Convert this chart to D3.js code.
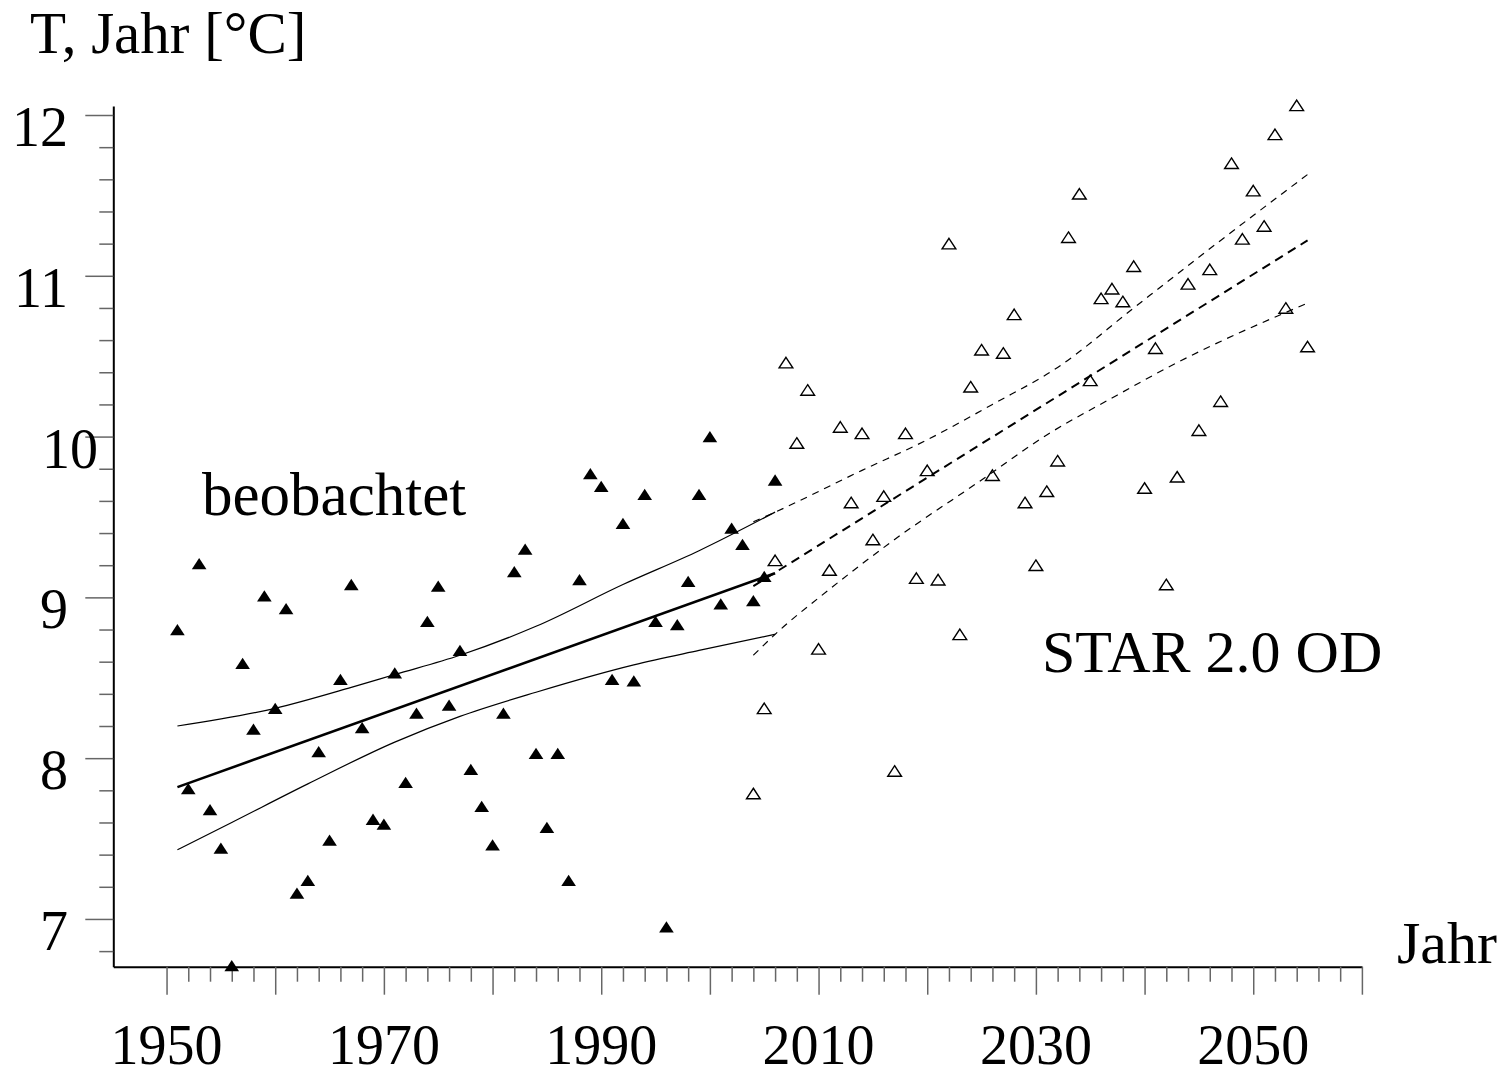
<!DOCTYPE html>
<html>
<head>
<meta charset="utf-8">
<script src="https://cdn.jsdelivr.net/npm/d3@7"></script>
<style>
  body { margin: 0; background: #fff; }
  text { font-family: "Liberation Serif", "DejaVu Serif", serif; fill: #000; }
</style>
</head>
<body>
<div id="chart"></div>
<script>
// Observed annual mean temperature (filled triangles)
const obsYears = d3.range(1951, 2007);
const obsTemp = [8.80, 7.81, 9.21, 7.68, 7.44, 6.71, 8.59, 8.18, 9.01, 8.31,
  8.93, 7.16, 7.24, 8.04, 7.49, 8.49, 9.08, 8.19, 7.62, 7.59,
  8.53, 7.85, 8.28, 8.85, 9.07, 8.33, 8.67, 7.93, 7.70, 7.46,
  8.28, 9.16, 9.30, 8.03, 7.57, 8.03, 7.24, 9.11, 9.77, 9.69,
  8.49, 9.46, 8.48, 9.64, 8.85, 6.95, 8.83, 9.10, 9.64, 10.00,
  8.96, 9.43, 9.33, 8.98, 9.13, 9.73];

// STAR 2.0 OD simulation (open triangles)
const simYears = d3.range(2004, 2056);
const simTemp = [7.78, 8.31, 9.23, 10.46, 9.96, 10.29, 8.68, 9.17, 10.06, 9.59,
  10.02, 9.36, 9.63, 7.92, 10.02, 9.12, 9.79, 9.11, 11.20, 8.77,
  10.31, 10.54, 9.76, 10.52, 10.76, 9.59, 9.20, 9.66, 9.85, 11.24,
  11.51, 10.35, 10.86, 10.92, 10.84, 11.06, 9.68, 10.55, 9.08, 9.75,
  10.95, 10.04, 11.04, 10.22, 11.70, 11.23, 11.53, 11.31, 11.88, 10.80,
  12.06, 10.56];

// Trend and confidence band, observed period
const obsTrend = [[1951, 7.82], [2006, 9.15]];
const obsUpper = [[1951, 8.20], [1960, 8.31], [1967, 8.44], [1971, 8.52], [1977, 8.64],
  [1984, 8.82], [1992, 9.08], [1999, 9.29], [2006, 9.53]];
const obsLower = [[1951, 7.43], [1956, 7.60], [1963, 7.84], [1971, 8.10], [1977, 8.26],
  [1984, 8.41], [1993, 8.58], [1999, 8.67], [2006, 8.77]];

// Trend and confidence band, projection
const simTrend = [[2004, 9.07], [2055, 11.22]];
const simUpper = [[2004, 9.47], [2006, 9.53], [2014, 9.79], [2020, 9.98], [2026, 10.20],
  [2032, 10.43], [2039, 10.80], [2047, 11.22], [2055, 11.63]];
const simLower = [[2004, 8.64], [2006, 8.77], [2011, 9.05], [2017, 9.36], [2025, 9.73],
  [2031, 10.01], [2037, 10.24], [2043, 10.46], [2055, 10.83]];

// Tick labels
const xLabels = [1950, 1970, 1990, 2010, 2030, 2050];
const yLabels = [7, 8, 9, 10, 11, 12];

const width = 1511;
const height = 1078;

const svg = d3.select("#chart")
  .append("svg")
  .attr("width", width)
  .attr("height", height);

const x = d3.scaleLinear().domain([1945.1, 2060]).range([113.3, 1361.9]);
const y = d3.scaleLinear().domain([6.703, 12.056]).range([966.7, 106]);

// X-axis, a tick every 2 years, long ones every 10
svg.append("g")
  .attr("transform", `translate(0,${y.range()[0]})`)
  .call(d3.axisBottom(x)
    .tickValues(d3.range(1950, 2061, 2))
    .tickSize(15)
    .tickSizeOuter(0)
    .tickFormat(""))
  .call(g => g.select(".domain").attr("stroke", "#000").attr("stroke-width", 2))
  .call(g => g.selectAll(".tick line")
    .attr("stroke", "#666")
    .attr("stroke-width", 1.5)
    .attr("y2", d => d % 10 === 0 ? 28 : 15));

// Y-axis, minor every 0.2
svg.append("g")
  .attr("transform", `translate(${x.range()[0]},0)`)
  .call(d3.axisLeft(y)
    .tickValues(d3.range(6.8, 12.01, 0.2))
    .tickSize(14)
    .tickSizeOuter(0)
    .tickFormat(""))
  .call(g => g.select(".domain").attr("stroke", "#000").attr("stroke-width", 2))
  .call(g => g.selectAll(".tick line")
    .attr("stroke", "#666")
    .attr("stroke-width", 1.5)
    .attr("x2", d => Math.abs(d - Math.round(d)) < 0.01 ? -28 : -14));

svg.selectAll(".xlab")
  .data(xLabels)
  .join("text")
  .attr("class", "xlab")
  .attr("x", d => x(d))
  .attr("y", 1064)
  .attr("text-anchor", "middle")
  .style("font-size", "56px")
  .text(d => d);

svg.selectAll(".ylab")
  .data(yLabels)
  .join("text")
  .attr("class", "ylab")
  .attr("x", 68)
  .attr("dx", d => d === 10 ? 30 : 0)
  .attr("y", d => y(d) + 31)
  .attr("text-anchor", "end")
  .style("font-size", "56px")
  .text(d => d);

// Axis titles and annotations
svg.append("text")
  .attr("x", 30)
  .attr("y", 53)
  .style("font-size", "59px")
  .text("T, Jahr [°C]");

svg.append("text")
  .attr("x", 1397)
  .attr("y", 963)
  .style("font-size", "60px")
  .text("Jahr");

svg.append("text")
  .attr("x", 202)
  .attr("y", 515)
  .style("font-size", "61px")
  .text("beobachtet");

svg.append("text")
  .attr("x", 1042)
  .attr("y", 672)
  .style("font-size", "60px")
  .text("STAR 2.0 OD");

// Lines
const line = d3.line()
  .x(d => x(d[0]))
  .y(d => y(d[1]))
  .curve(d3.curveMonotoneX);

const lines = [
  { pts: obsTrend, w: 2.6, dash: null },
  { pts: obsUpper, w: 1.2, dash: null },
  { pts: obsLower, w: 1.2, dash: null },
  { pts: simTrend, w: 2, dash: "9,6" },
  { pts: simUpper, w: 1.2, dash: "7,6" },
  { pts: simLower, w: 1.2, dash: "7,6" }
];

svg.selectAll(".trend")
  .data(lines)
  .join("path")
  .attr("class", "trend")
  .attr("fill", "none")
  .attr("stroke", "#000")
  .attr("stroke-width", d => d.w)
  .attr("stroke-dasharray", d => d.dash)
  .attr("d", d => line(d.pts));

// Triangle markers, a bit wider than tall like the original
const flatTriangle = {
  draw(ctx, size) {
    const w = Math.sqrt(size / 0.77);
    const h = w * 0.77;
    ctx.moveTo(0, -h / 2);
    ctx.lineTo(w / 2, h / 2);
    ctx.lineTo(-w / 2, h / 2);
    ctx.closePath();
  }
};

svg.selectAll(".sim")
  .data(simYears.map((yr, i) => [yr, simTemp[i]]))
  .join("path")
  .attr("class", "sim")
  .attr("transform", d => `translate(${x(d[0])},${y(d[1])})`)
  .attr("d", d3.symbol().type(flatTriangle).size(145))
  .attr("fill", "none")
  .attr("stroke", "#000")
  .attr("stroke-width", 1.4);

svg.selectAll(".obs")
  .data(obsYears.map((yr, i) => [yr, obsTemp[i]]))
  .join("path")
  .attr("class", "obs")
  .attr("transform", d => `translate(${x(d[0])},${y(d[1])})`)
  .attr("d", d3.symbol().type(flatTriangle).size(165))
  .attr("fill", "#000");
</script>
</body>
</html>
